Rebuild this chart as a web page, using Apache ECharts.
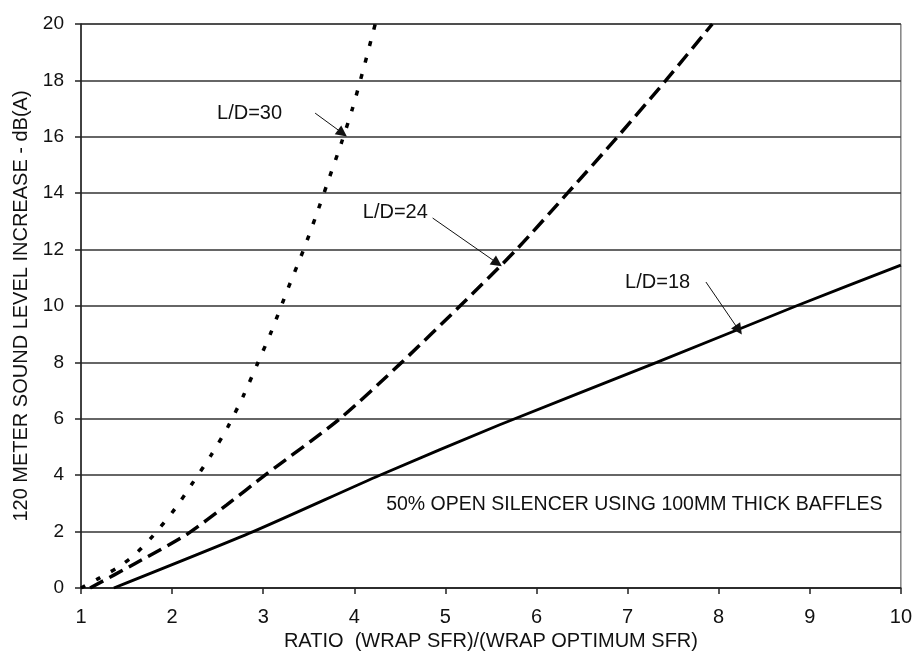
<!DOCTYPE html>
<html>
<head>
<meta charset="utf-8">
<script src="https://cdn.jsdelivr.net/npm/echarts@6/dist/echarts.min.js"></script>
<style>html,body{margin:0;padding:0;background:#fff}#c{width:915px;height:662px}</style>
</head>
<body>
<div id="c"></div>
<script>
// Data
var ld30 = [[1.0,0],[1.2,0.35],[1.4,0.72],[1.58,1.15],[1.79,1.85],[2.03,2.8],[2.21,3.65],[2.43,4.72],[2.61,5.7],[2.78,6.8],[2.93,7.9],[3.09,9.1],[3.27,10.6],[3.45,12.05],[3.58,13.2],[3.71,14.4],[3.86,15.8],[3.98,17.0],[4.1,18.4],[4.23,20]];
var ld24 = [[1.1,0],[1.6,0.88],[2.16,1.9],[2.6,2.95],[3.02,4.0],[3.84,6.0],[4.52,8.0],[5.16,10],[5.78,12],[6.34,14],[6.89,16],[7.42,18],[7.93,20]];
var ld18 = [[1.36,0],[2.89,2.0],[4.28,4.0],[5.59,5.78],[7.32,8.0],[8.85,10.0],[10,11.45]];
var seriesNames = ['L/D=30','L/D=24','L/D=18'];
// annotation label positions and arrows (data coordinates)
var labelPos = [[2.85,16.84],[4.45,13.33],[7.33,10.85]];
var arrows = [[[3.57,16.84],[3.87,16.13]],[[4.86,13.12],[5.57,11.52]],[[7.86,10.85],[8.22,9.15]]];
var noteText = '50% OPEN SILENCER USING 100MM THICK BAFFLES';
var notePos = [4.35,2.94];
var xTitle = 'RATIO  (WRAP SFR)/(WRAP OPTIMUM SFR)';
var yTitle = '120 METER SOUND LEVEL INCREASE - dB(A)';

var FONT = '"Liberation Sans", Arial, sans-serif';
var chart = echarts.init(document.getElementById('c'));

function annot(i, extraPoints){
  var pts = [{coord: labelPos[i], value: seriesNames[i], symbolSize: 0,
    label: {show: true, position: 'inside', formatter: seriesNames[i], color: '#111', fontSize: 20, fontFamily: FONT}}];
  if (extraPoints) pts = pts.concat(extraPoints);
  return {
    markLine: {
      silent: true, animation: false,
      symbol: ['none','triangle'], symbolSize: 11,
      label: {show: false},
      lineStyle: {color: '#111', width: 1, type: 'solid'},
      itemStyle: {color: '#111'},
      data: [[{coord: arrows[i][0]}, {coord: arrows[i][1]}]]
    },
    markPoint: {
      silent: true, animation: false, symbol: 'circle', symbolSize: 0,
      itemStyle: {color: 'transparent'},
      data: pts
    }
  };
}

var s0 = Object.assign({
  name: seriesNames[0], type: 'line', data: ld30, showSymbol: false, smooth: 0.25,
  lineStyle: {color: '#000', width: 3.5, type: [5, 12]}
}, annot(0));
var s1 = Object.assign({
  name: seriesNames[1], type: 'line', data: ld24, showSymbol: false, smooth: 0.25,
  lineStyle: {color: '#000', width: 3.5, type: [15, 7]}
}, annot(1));
var s2 = Object.assign({
  name: seriesNames[2], type: 'line', data: ld18, showSymbol: false, smooth: 0.2,
  lineStyle: {color: '#000', width: 2.8, type: 'solid'}
}, annot(2, [{coord: notePos, symbolSize: 0,
    label: {show: true, position: 'right', distance: 0, formatter: noteText, color: '#111', fontSize: 19.5, fontFamily: FONT}}]));

chart.setOption({
  animation: false,
  backgroundColor: '#fff',
  grid: {left: 81, right: 13, top: 24, bottom: 74, show: true, borderColor: '#444', borderWidth: 1, backgroundColor: '#fff'},
  xAxis: {
    type: 'value', min: 1, max: 10, interval: 1,
    name: xTitle, nameLocation: 'middle', nameGap: 41,
    nameTextStyle: {fontSize: 20, color: '#111', fontFamily: FONT},
    axisLine: {show: true, onZero: false, lineStyle: {color: '#222', width: 1.5}},
    axisTick: {show: true, length: 6, lineStyle: {color: '#222', width: 1.5}},
    axisLabel: {fontSize: 20, color: '#111', margin: 19, fontFamily: FONT},
    splitLine: {show: false}
  },
  yAxis: {
    type: 'value', min: 0, max: 20, interval: 2,
    name: yTitle, nameLocation: 'middle', nameGap: 47,
    nameTextStyle: {fontSize: 20, color: '#111', fontFamily: FONT},
    axisLine: {show: true, lineStyle: {color: '#222', width: 1.5}},
    axisTick: {show: true, length: 6, lineStyle: {color: '#222', width: 1.5}},
    axisLabel: {fontSize: 19, color: '#111', margin: 17, fontFamily: FONT},
    splitLine: {show: true, lineStyle: {color: '#333', width: 1.5}}
  },
  series: [s0, s1, s2]
});
</script>
</body>
</html>
